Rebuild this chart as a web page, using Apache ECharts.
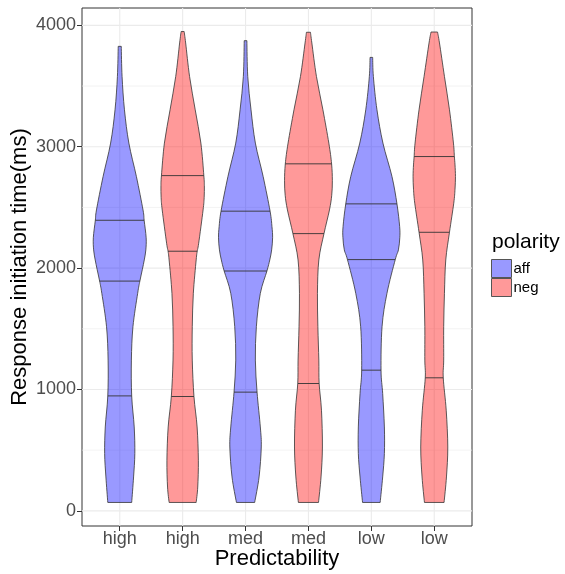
<!DOCTYPE html>
<html><head><meta charset="utf-8">
<script src="https://cdn.jsdelivr.net/npm/echarts@6/dist/echarts.min.js"></script>
<style>html,body{margin:0;padding:0;background:#fff}#c{width:565px;height:574px}</style>
</head><body><div id="c"></div>
<script>
// ---- data ----
const categories = ['high','high','med','med','low','low'];
const polarity = ['aff','neg','aff','neg','aff','neg'];
const yTicks = [0,1000,2000,3000,4000];
const yMinor = [500,1500,2500,3500];
// violin profiles: [response time (ms), half-width (density, category units)]
const affHigh = [[69,0.19],[279,0.22],[472,0.24],[691,0.23],[947,0.19],[1242,0.185],[1517,0.21],[1792,0.285],[1893,0.32],[1990,0.36],[2067,0.39],[2150,0.415],[2250,0.42],[2394,0.388],[2479,0.37],[2754,0.265],[3030,0.145],[3304,0.075],[3579,0.037],[3827,0.024]];
const negHigh = [[69,0.215],[196,0.24],[417,0.25],[691,0.23],[942,0.18],[1242,0.153],[1517,0.153],[1792,0.17],[2067,0.215],[2139,0.232],[2205,0.255],[2479,0.325],[2580,0.342],[2680,0.345],[2762,0.337],[3030,0.29],[3304,0.2],[3579,0.11],[3855,0.048],[3949,0.024]];
const affMed = [[69,0.145],[279,0.215],[526,0.25],[691,0.235],[978,0.183],[1242,0.156],[1517,0.172],[1792,0.235],[1976,0.34],[2067,0.385],[2150,0.415],[2250,0.43],[2342,0.42],[2469,0.39],[2754,0.28],[3030,0.156],[3304,0.087],[3579,0.035],[3874,0.021]];
const negMed = [[69,0.16],[279,0.2],[526,0.222],[829,0.207],[1049,0.17],[1242,0.165],[1517,0.15],[1792,0.143],[2067,0.165],[2284,0.247],[2479,0.334],[2600,0.37],[2720,0.38],[2859,0.368],[3030,0.324],[3304,0.23],[3579,0.127],[3855,0.054],[3943,0.032]];
const affLow = [[69,0.14],[279,0.18],[472,0.207],[691,0.207],[967,0.18],[1159,0.154],[1517,0.17],[1792,0.248],[2070,0.38],[2150,0.43],[2250,0.452],[2342,0.45],[2529,0.407],[2754,0.328],[3030,0.184],[3304,0.089],[3579,0.032],[3736,0.021]];
const negLow = [[69,0.156],[279,0.194],[526,0.215],[829,0.19],[1096,0.143],[1242,0.15],[1517,0.15],[1792,0.162],[2067,0.183],[2295,0.242],[2535,0.31],[2650,0.33],[2754,0.337],[2850,0.33],[2919,0.32],[3030,0.305],[3304,0.242],[3579,0.162],[3855,0.083],[3945,0.052]];
// quantile lines (25%, 50%, 75%)
const affHighQ = [947,1893,2394];
const negHighQ = [942,2139,2762];
const affMedQ = [978,1976,2469];
const negMedQ = [1049,2284,2859];
const affLowQ = [1159,2070,2529];
const negLowQ = [1096,2295,2919];

const profiles = [affHigh, negHigh, affMed, negMed, affLow, negLow];
const quants = [affHighQ, negHighQ, affMedQ, negMedQ, affLowQ, negLowQ];
const fills = {aff:'rgba(0,0,255,0.4)', neg:'rgba(255,0,0,0.4)'};

const X_MIN = -0.6, X_MAX = categories.length - 0.4;
const Y_MIN = -125, Y_MAX = 4143;

function sidePath(pts){
  let d = '';
  for (let i=0;i<pts.length-1;i++){
    const p0 = pts[Math.max(i-1,0)], p1 = pts[i], p2 = pts[i+1], p3 = pts[Math.min(i+2,pts.length-1)];
    const c1 = [p1[0]+(p2[0]-p0[0])/6, p1[1]+(p2[1]-p0[1])/6];
    const c2 = [p2[0]-(p3[0]-p1[0])/6, p2[1]-(p3[1]-p1[1])/6];
    d += ' C '+c1[0]+' '+c1[1]+' '+c2[0]+' '+c2[1]+' '+p2[0]+' '+p2[1];
  }
  return d;
}
function widthAt(prof, v){
  for (let i=0;i<prof.length-1;i++){
    if (v>=prof[i][0] && v<=prof[i+1][0]){
      const t=(v-prof[i][0])/(prof[i+1][0]-prof[i][0]);
      return prof[i][1]+t*(prof[i+1][1]-prof[i][1]);
    }
  }
  return 0;
}
function renderViolin(params, api){
  const idx = api.value(0);
  const prof = profiles[idx];
  const right = prof.map(p=>api.coord([idx+p[1], p[0]]));
  const left = prof.slice().reverse().map(p=>api.coord([idx-p[1], p[0]]));
  const d = 'M '+right[0][0]+' '+right[0][1]+sidePath(right)+' L '+left[0][0]+' '+left[0][1]+sidePath(left)+' Z';
  const children = [{
    type:'path', shape:{pathData:d},
    style:{fill:fills[polarity[idx]], stroke:'#333333', lineWidth:0.8}
  }];
  quants[idx].forEach(q=>{
    const w = widthAt(prof,q);
    const a = api.coord([idx-w,q]), b = api.coord([idx+w,q]);
    children.push({type:'line', shape:{x1:a[0],y1:a[1],x2:b[0],y2:b[1]}, style:{stroke:'#333333', lineWidth:0.9}});
  });
  return {type:'group', children};
}
const gridItems = [].concat(
  yMinor.map(v=>({k:'hmin',v})),
  yTicks.map(v=>({k:'hmaj',v})),
  categories.map((c,i)=>({k:'v',v:i}))
);
function renderGrid(params, api){
  const g = gridItems[params.dataIndex];
  let a,b;
  if (g.k==='v'){ a=api.coord([g.v,Y_MIN]); b=api.coord([g.v,Y_MAX]); }
  else { a=api.coord([X_MIN,g.v]); b=api.coord([X_MAX,g.v]); }
  return {type:'line', shape:{x1:a[0],y1:a[1],x2:b[0],y2:b[1]},
    style:{stroke:'#ebebeb', lineWidth: g.k==='hmin'?0.6:1.1}};
}

const chart = echarts.init(document.getElementById('c'), null, {renderer:'canvas'});
const idxs = categories.map((c,i)=>i);
chart.setOption({
  animation:false,
  grid:{left:82, top:8, right:93, bottom:48, containLabel:false, outerBoundsMode:'none',
    show:true, borderColor:'#333333', borderWidth:1, backgroundColor:'transparent'},
  xAxis:{type:'value', min:X_MIN, max:X_MAX, position:'bottom',
    name:'Predictability', nameLocation:'middle', nameGap:22, nameMoveOverlap:false,
    nameTextStyle:{fontSize:22, color:'#000', fontFamily:'Liberation Sans'},
    axisLine:{show:false, onZero:false}, splitLine:{show:false},
    axisTick:{show:true, customValues:idxs, length:5, lineStyle:{color:'#333'}},
    axisLabel:{customValues:idxs, margin:4, fontSize:18, color:'#4d4d4d', fontFamily:'Liberation Sans',
      formatter:v=>categories[Math.round(v)]}},
  yAxis:{type:'value', min:Y_MIN, max:Y_MAX, position:'left',
    name:'Response initiation time(ms)', nameLocation:'middle', nameGap:51, nameRotate:90, nameMoveOverlap:false,
    nameTextStyle:{fontSize:22, color:'#000', fontFamily:'Liberation Sans'},
    axisLine:{show:false, onZero:false}, splitLine:{show:false},
    axisTick:{show:true, customValues:yTicks, length:5, lineStyle:{color:'#333'}},
    axisLabel:{customValues:yTicks, margin:6, fontSize:18, color:'#4d4d4d', fontFamily:'Liberation Sans',
      formatter:v=>String(v)}},
  legend:{orient:'vertical', left:491, top:259, padding:0, itemGap:0, itemWidth:20, itemHeight:18,
    icon:'rect', selectedMode:false, data:['aff','neg'],
    itemStyle:{borderColor:'#555', borderWidth:1},
    textStyle:{fontSize:15, color:'#000', fontFamily:'Liberation Sans', padding:[0,0,0,-3]}},
  graphic:[{type:'text', left:492, top:232, style:{text:'polarity', font:'21px "Liberation Sans"', fill:'#000'}}],
  series:[
    {type:'custom', name:'grid', silent:true, z:1, renderItem:renderGrid, data:gridItems.map((g,i)=>i)},
    {type:'custom', name:'aff', z:2, renderItem:renderViolin, itemStyle:{color:fills.aff},
      data:idxs.filter(i=>polarity[i]==='aff').map(i=>[i, profiles[i][0][0]])},
    {type:'custom', name:'neg', z:2, renderItem:renderViolin, itemStyle:{color:fills.neg},
      data:idxs.filter(i=>polarity[i]==='neg').map(i=>[i, profiles[i][0][0]])}
  ]
});
</script></body></html>
